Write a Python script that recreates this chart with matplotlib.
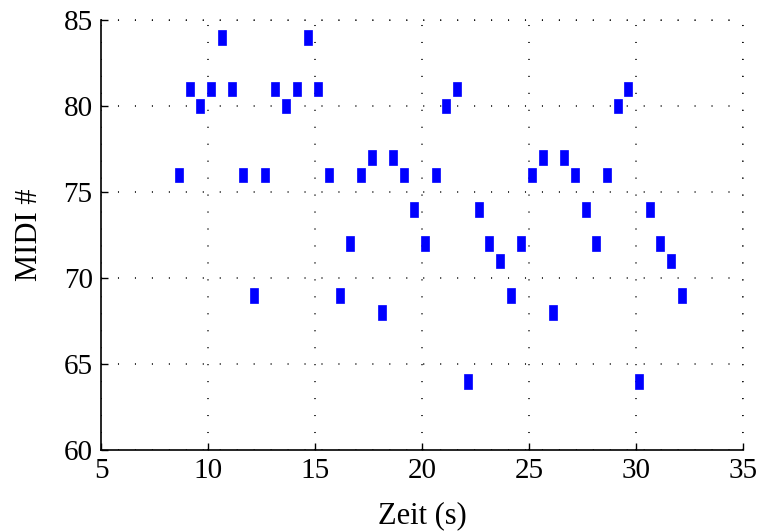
import numpy as np
import matplotlib
matplotlib.use("Agg")
import matplotlib.pyplot as plt

zeit = [8.64, 9.16, 9.63, 10.14, 10.65, 11.12, 11.64, 12.15, 12.66, 13.13,
        13.64, 14.16, 14.67, 15.14, 15.65, 16.17, 16.64, 17.15, 17.66, 18.13,
        18.64, 19.16, 19.63, 20.14, 20.65, 21.12, 21.64, 22.15, 22.66, 23.13,
        23.64, 24.16, 24.63, 25.14, 25.65, 26.12, 26.64, 27.15, 27.66, 28.13,
        28.64, 29.16, 29.63, 30.14, 30.65, 31.12, 31.64, 32.15]
midi = [76, 81, 80, 81, 84, 81, 76, 69, 76, 81,
        80, 81, 84, 81, 76, 69, 72, 76, 77, 68,
        77, 76, 74, 72, 76, 80, 81, 64, 74, 72,
        71, 69, 72, 76, 77, 68, 77, 76, 74, 72,
        76, 80, 81, 64, 74, 72, 71, 69]

xticks = [5, 10, 15, 20, 25, 30, 35]
yticks = [60, 65, 70, 75, 80, 85]

plt.rcParams['font.family'] = ['Liberation Serif', 'DejaVu Serif']

fig = plt.figure(figsize=(7.67, 5.32), dpi=100)
ax = fig.add_axes([0.1317, 0.1541, 0.837, 0.808])

note_w = 0.37
note_h = 0.85
ax.bar(zeit, note_h, width=note_w, bottom=np.array(midi) - note_h / 2,
       color='#0000ff', edgecolor='#0000ff', linewidth=0.5, zorder=3)

ax.set_xlim(5, 35)
ax.set_ylim(60, 85)
ax.set_xticks(xticks)
ax.set_yticks(yticks)
ax.tick_params(direction='in', length=5, width=1, labelsize=21, pad=6)
ax.set_xlabel('Zeit (s)', fontsize=22, labelpad=12)
ax.set_ylabel('MIDI #', fontsize=22, labelpad=14)

for s in ['top', 'right']:
    ax.spines[s].set_visible(False)
for s in ['left', 'bottom']:
    ax.spines[s].set_linewidth(1.2)

dots = (0, (0.7, 10.4))
ax.grid(True, color='black', linestyle=dots, linewidth=1.1)
# grid lines at the far edges (box is drawn dotted in the original)
ax.axhline(85, color='black', linestyle=dots, linewidth=1.1, clip_on=False)
ax.axvline(35, color='black', linestyle=dots, linewidth=1.1, clip_on=False)

fig.savefig('out.png', dpi=100)
